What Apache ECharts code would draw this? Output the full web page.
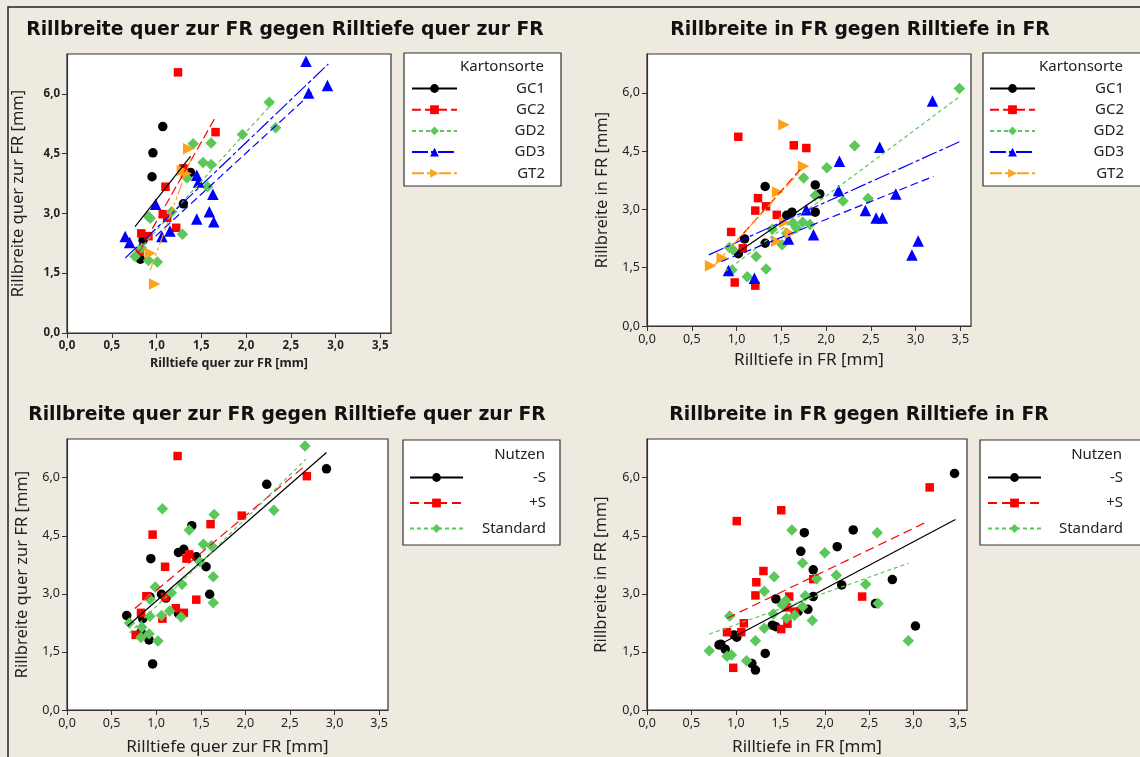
<!DOCTYPE html>
<html>
<head>
<meta charset="utf-8">
<script src="https://cdn.jsdelivr.net/npm/echarts@6.0.0/dist/echarts.min.js"></script>
<style>
html, body { margin: 0; padding: 0; background: #EEEAE0; }
#chart { width: 1140px; height: 757px; }
</style>
</head>
<body>
<div id="chart"></div>
<script>
// Achsen-Ticks
var xTicks = [0, 0.5, 1, 1.5, 2, 2.5, 3, 3.5];
var yTicks = [0, 1.5, 3, 4.5, 6];

var kartonsorten = ['GC1', 'GC2', 'GD2', 'GD3', 'GT2'];
var nutzen = ['-S', '+S', 'Standard'];

// quer zur FR, nach Kartonsorte
var querGC1 = [[1.07,5.18],[0.96,4.52],[0.95,3.92],[1.38,4.03],[1.30,3.24],[0.85,2.33],[0.82,1.85]];
var querGC2 = [[1.24,6.54],[1.66,5.04],[1.10,3.67],[1.30,4.13],[1.07,2.98],[1.12,2.89],[1.22,2.64],[0.83,2.50],[0.91,2.43],[0.81,2.04]];
var querGD2 = [[2.26,5.79],[2.33,5.15],[1.96,4.98],[1.41,4.75],[1.61,4.77],[1.52,4.28],[1.61,4.23],[1.34,3.89],[1.57,3.67],[1.17,3.04],[0.91,2.92],[0.93,2.88],[1.29,2.48],[0.83,2.13],[0.76,1.92],[0.91,1.82],[1.01,1.78]];
var querGD3 = [[2.67,6.82],[2.91,6.21],[2.70,6.02],[1.45,3.96],[1.47,3.79],[1.63,3.48],[0.99,3.23],[1.59,3.04],[1.45,2.86],[1.64,2.79],[1.15,2.56],[1.06,2.42],[0.65,2.42],[0.70,2.27]];
var querGT2 = [[1.36,4.62],[1.29,4.08],[1.33,4.00],[0.93,2.00],[0.98,1.23]];
var querFitGC1 = [[0.76,2.67],[1.38,4.43]];
var querFitGC2 = [[0.81,2.05],[1.67,5.46]];
var querFitGD2 = [[0.80,2.08],[2.29,5.75]];
var querFitGD3 = [[0.65,1.88],[2.92,6.75]];
var querFitGD3b = [[0.99,2.43],[2.74,6.04]];
var querFitGT2 = [[0.93,1.58],[1.40,4.46]];

// in FR, nach Kartonsorte
var inGC1 = [[1.32,3.59],[1.88,3.63],[1.93,3.40],[1.88,2.93],[1.62,2.93],[1.56,2.85],[1.09,2.24],[1.32,2.13],[1.02,1.86]];
var inGC2 = [[1.02,4.87],[1.64,4.65],[1.78,4.58],[1.24,3.29],[1.33,3.08],[1.21,2.97],[1.45,2.86],[0.94,2.42],[1.07,2.00],[0.98,1.12],[1.21,1.04]];
var inGD2 = [[3.49,6.11],[2.32,4.64],[2.01,4.07],[1.75,3.81],[1.88,3.36],[2.19,3.22],[2.47,3.28],[1.40,2.49],[1.63,2.65],[1.74,2.67],[1.67,2.52],[1.82,2.61],[1.56,2.39],[1.22,1.79],[1.33,1.47],[1.12,1.27],[1.51,2.09],[0.92,2.02],[0.96,1.96],[0.95,1.44]];
var inGD3 = [[3.19,5.79],[2.60,4.60],[2.15,4.24],[2.14,3.49],[1.78,2.99],[2.44,2.97],[2.78,3.40],[2.56,2.78],[2.63,2.78],[1.86,2.35],[1.58,2.24],[3.03,2.19],[2.96,1.83],[0.91,1.43],[1.20,1.23]];
var inGT2 = [[1.53,5.18],[1.75,4.11],[1.46,3.45],[1.54,2.67],[1.60,2.39],[1.45,2.18],[0.84,1.75],[0.71,1.55]];
var inFitGC1 = [[1.00,1.87],[1.93,3.34]];
var inFitGC2 = [[0.98,2.13],[1.71,4.02]];
var inFitGD2 = [[0.87,1.40],[3.49,5.90]];
var inFitGD3 = [[0.69,1.83],[3.49,4.74]];
var inFitGD3b = [[0.83,1.66],[3.20,3.85]];
var inFitGT2 = [[0.74,1.53],[1.78,4.15]];

// quer zur FR, nach Nutzen
var querMinusS = [[0.67,2.44],[0.85,2.36],[0.83,2.01],[0.92,1.81],[0.96,1.19],[0.94,3.91],[0.93,2.92],[1.06,2.99],[1.11,2.89],[1.25,4.07],[1.31,4.15],[1.40,4.76],[1.45,3.96],[1.56,3.70],[1.60,2.99],[1.25,2.49],[2.24,5.83],[2.91,6.23]];
var querPlusS = [[1.24,6.56],[0.96,4.53],[1.10,3.70],[0.89,2.94],[1.10,2.92],[0.83,2.51],[0.77,1.94],[1.07,2.36],[1.22,2.63],[1.31,2.51],[1.34,3.91],[1.37,4.02],[1.61,4.80],[1.45,2.85],[1.96,5.02],[2.69,6.04]];
var querStandard = [[2.67,6.82],[2.32,5.16],[1.07,5.20],[1.65,5.05],[1.37,4.65],[1.53,4.28],[1.62,4.24],[1.49,3.83],[1.64,3.44],[1.29,3.25],[0.99,3.18],[1.17,3.03],[0.93,2.86],[1.64,2.77],[1.15,2.56],[1.06,2.44],[0.93,2.42],[1.28,2.40],[0.70,2.25],[0.84,2.14],[0.92,1.97],[0.83,1.87],[1.02,1.78]];
var querFitMinusS = [[0.68,2.17],[2.91,6.65]];
var querFitPlusS = [[0.76,2.62],[2.66,6.29]];
var querFitStandard = [[0.70,1.99],[2.68,6.48]];

// in FR, nach Nutzen
var inMinusS = [[3.46,6.11],[2.32,4.65],[1.77,4.58],[2.14,4.22],[1.73,4.10],[1.87,3.62],[2.19,3.23],[2.76,3.37],[1.87,2.93],[1.45,2.87],[1.81,2.60],[1.70,2.54],[2.57,2.75],[1.41,2.19],[1.45,2.15],[3.02,2.17],[0.98,1.94],[1.01,1.88],[0.83,1.70],[0.81,1.68],[0.88,1.57],[1.33,1.46],[1.18,1.20],[1.22,1.03]];
var inPlusS = [[3.18,5.75],[1.51,5.16],[1.01,4.88],[1.31,3.59],[1.23,3.30],[1.22,2.96],[1.60,2.93],[1.87,3.38],[2.42,2.93],[1.57,2.65],[1.66,2.54],[1.09,2.24],[0.90,2.01],[1.06,2.01],[1.58,2.23],[1.51,2.09],[0.97,1.09]];
var inStandard = [[1.63,4.65],[2.59,4.58],[2.00,4.06],[1.75,3.80],[1.43,3.44],[2.13,3.48],[1.91,3.39],[1.32,3.07],[2.46,3.25],[1.78,2.95],[1.56,2.82],[1.52,2.71],[1.75,2.67],[1.42,2.48],[1.57,2.37],[1.66,2.45],[0.93,2.43],[1.86,2.31],[2.60,2.75],[1.32,2.11],[1.22,1.79],[0.70,1.53],[0.90,1.39],[0.95,1.42],[1.12,1.27],[2.94,1.79]];
var inFitMinusS = [[0.84,1.72],[3.47,4.92]];
var inFitPlusS = [[0.90,2.37],[3.13,4.84]];
var inFitStandard = [[0.70,1.96],[2.94,3.79]];

var FONT = '"Noto Sans", sans-serif';
var TITLE_FONT = '"DejaVu Sans", sans-serif';
var TRI_RIGHT = 'path://M0,0L10,5L0,10Z';

var styles = {
    'GC1': {color: '#000000', symbol: 'circle', size: 9.5, dash: 'solid'},
    'GC2': {color: '#FF0000', symbol: 'rect', size: 8.5, dash: [9, 4]},
    'GD2': {color: '#5CC85C', symbol: 'diamond', size: 11.5, dash: [4, 3]},
    'GD3': {color: '#0000FF', symbol: 'triangle', size: 11.5, dash: [16, 3, 4, 3]},
    'GT2': {color: '#FFA21A', symbol: TRI_RIGHT, size: 11.5, dash: [12, 3, 3, 3, 3, 3]},
    '-S': {color: '#000000', symbol: 'circle', size: 9.5, dash: 'solid'},
    '+S': {color: '#FF0000', symbol: 'rect', size: 8.5, dash: [9, 5]},
    'Standard': {color: '#5CC85C', symbol: 'diamond', size: 11.5, dash: [4, 3]}
};

var series = [];
var fitSeries = [];

function addGroup(panel, name, pts, fits) {
    var st = styles[name];
    series.push({
        name: name + ' Punkte',
        type: 'scatter',
        xAxisIndex: panel,
        yAxisIndex: panel,
        data: pts,
        symbol: st.symbol,
        symbolSize: st.size,
        itemStyle: {color: st.color, opacity: 1},
        z: 2
    });
    fits.forEach(function (f, i) {
        fitSeries.push({
            name: name,
            type: 'line',
            xAxisIndex: panel,
            yAxisIndex: panel,
            data: f,
            symbol: st.symbol,
            symbolSize: st.size,
            showSymbol: false,
            itemStyle: {color: st.color},
            lineStyle: {color: st.color, width: 1.2, type: i === 0 ? st.dash : [8, 4]},
            silent: true,
            z: 3
        });
    });
}

addGroup(0, 'GC1', querGC1, [querFitGC1]);
addGroup(0, 'GC2', querGC2, [querFitGC2]);
addGroup(0, 'GD2', querGD2, [querFitGD2]);
addGroup(0, 'GD3', querGD3, [querFitGD3, querFitGD3b]);
addGroup(0, 'GT2', querGT2, [querFitGT2]);

addGroup(1, 'GC1', inGC1, [inFitGC1]);
addGroup(1, 'GC2', inGC2, [inFitGC2]);
addGroup(1, 'GD2', inGD2, [inFitGD2]);
addGroup(1, 'GD3', inGD3, [inFitGD3, inFitGD3b]);
addGroup(1, 'GT2', inGT2, [inFitGT2]);

addGroup(2, '-S', querMinusS, [querFitMinusS]);
addGroup(2, '+S', querPlusS, [querFitPlusS]);
addGroup(2, 'Standard', querStandard, [querFitStandard]);

addGroup(3, '-S', inMinusS, [inFitMinusS]);
addGroup(3, '+S', inPlusS, [inFitPlusS]);
addGroup(3, 'Standard', inStandard, [inFitStandard]);

function fmt(v) {
    return v.toFixed(1).replace('.', ',');
}

var grids = [
    {left: 67, top: 54, width: 324, height: 279},
    {left: 647, top: 54, width: 324, height: 272},
    {left: 67, top: 439, width: 321, height: 272},
    {left: 647, top: 439, width: 320, height: 272}
];
grids.forEach(function (g) {
    g.show = true;
    g.backgroundColor = '#FFFFFF';
    g.borderColor = '#333333';
    g.borderWidth = 1.2;
});

var xNames = ['Rilltiefe quer zur FR [mm]', 'Rilltiefe in FR [mm]', 'Rilltiefe quer zur FR [mm]', 'Rilltiefe in FR [mm]'];
var yNames = ['Rillbreite quer zur FR [mm]', 'Rillbreite in FR [mm]', 'Rillbreite quer zur FR [mm]', 'Rillbreite in FR [mm]'];
var xMax = [3.62, 3.62, 3.6, 3.6];
var xGap = [24, 26, 29, 29];
var yGap = [40, 36, 36, 37];

var xAxes = [], yAxes = [];
for (var i = 0; i < 4; i++) {
    var bold = i === 0;
    var lab = {
        formatter: fmt, fontFamily: FONT, fontSize: bold ? 11.5 : 12.5,
        fontWeight: bold ? 'bold' : 'normal', color: '#222', margin: 7
    };
    xAxes.push({
        type: 'value', gridIndex: i, min: 0, max: xMax[i],
        name: xNames[i], nameLocation: 'middle', nameGap: xGap[i],
        nameTextStyle: {fontFamily: FONT, fontSize: bold ? 12.5 : 17, fontWeight: bold ? 'bold' : 'normal', color: '#222'},
        axisLine: {show: true, onZero: false, lineStyle: {color: '#333', width: 1.2}},
        axisTick: {show: true, length: 5, customValues: xTicks, lineStyle: {color: '#333'}},
        axisLabel: Object.assign({customValues: xTicks}, lab),
        splitLine: {show: false}
    });
    yAxes.push({
        type: 'value', gridIndex: i, min: 0, max: 7,
        name: yNames[i], nameLocation: 'middle', nameGap: yGap[i], nameRotate: 90,
        nameTextStyle: {fontFamily: FONT, fontSize: 16.5, color: '#222'},
        axisLine: {show: true, onZero: false, lineStyle: {color: '#333', width: 1.2}},
        axisTick: {show: true, length: 5, customValues: yTicks, lineStyle: {color: '#333'}},
        axisLabel: Object.assign({customValues: yTicks}, lab),
        splitLine: {show: false}
    });
}

function legendFor(names, left, top, iw, tw, gap) {
    return {
        data: names,
        orient: 'vertical',
        left: left,
        top: top,
        padding: 0,
        itemWidth: iw,
        itemHeight: 11,
        itemGap: gap,
        selectedMode: false,
        formatter: function (n) { return '{a|' + n + '}'; },
        textStyle: {
            rich: {a: {width: tw, align: 'right', fontFamily: FONT, fontSize: 15, lineHeight: 16, color: '#222'}}
        }
    };
}

function title(text, x, y) {
    return {
        type: 'text', x: x, y: y,
        style: {text: text, font: 'bold 18.8px ' + TITLE_FONT, fill: '#111', textAlign: 'center', textVerticalAlign: 'middle'}
    };
}
function box(x, y, w, h) {
    return {type: 'rect', shape: {x: x, y: y, width: w, height: h}, style: {fill: '#FFFFFF', stroke: '#333', lineWidth: 1.2}, z: -1};
}
function header(text, x, y) {
    return {type: 'text', x: x, y: y, style: {text: text, font: '15px ' + FONT, fill: '#222', textAlign: 'right', textVerticalAlign: 'middle'}};
}

var chart = echarts.init(document.getElementById('chart'));
chart.setOption({
    backgroundColor: '#EEEAE0',
    animation: false,
    grid: grids,
    xAxis: xAxes,
    yAxis: yAxes,
    legend: [
        legendFor(kartonsorten, 411, 81, 45, 83, 6.2),
        legendFor(kartonsorten, 989, 81, 45, 84, 6.2),
        legendFor(nutzen, 409, 470, 53, 78, 10.5),
        legendFor(nutzen, 987, 470, 53, 77, 10.5)
    ],
    graphic: [
        {type: 'rect', shape: {x: 8, y: 7, width: 1150, height: 770}, style: {fill: null, stroke: '#222', lineWidth: 1.5}},
        box(404, 53, 157, 133),
        box(983, 53, 160, 133),
        box(403, 440, 157, 105),
        box(980, 440, 165, 105),
        header('Kartonsorte', 544, 67),
        header('Kartonsorte', 1123, 67),
        header('Nutzen', 545, 455),
        header('Nutzen', 1122, 455),
        title('Rillbreite quer zur FR gegen Rilltiefe quer zur FR', 285, 30),
        title('Rillbreite in FR gegen Rilltiefe in FR', 860, 30),
        title('Rillbreite quer zur FR gegen Rilltiefe quer zur FR', 287, 415),
        title('Rillbreite in FR gegen Rilltiefe in FR', 859, 415)
    ],
    series: series.concat(fitSeries)
});
window.onresize = chart.resize;
</script>
</body>
</html>
